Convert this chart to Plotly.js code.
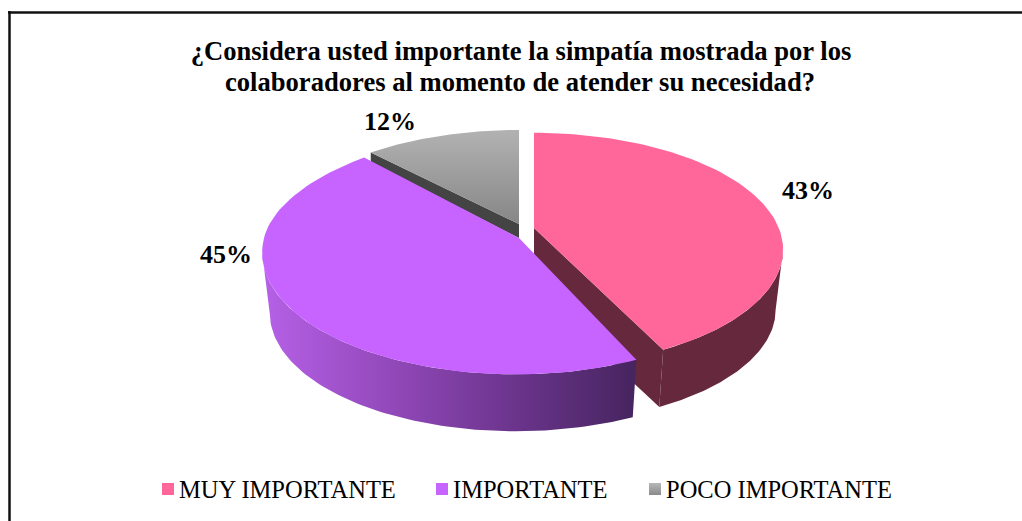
<!DOCTYPE html>
<html><head><meta charset="utf-8">
<script src="https://cdn.plot.ly/plotly-3.0.1.min.js"></script>
<style>html,body{margin:0;padding:0;background:#fff}
.legendsymbols{transform:translateX(9px)}</style></head>
<body><div id="chart" style="width:1022px;height:521px"></div>
<script>
const categories = ["MUY IMPORTANTE", "IMPORTANTE", "POCO IMPORTANTE"];
const values = [43, 45, 12];
const topColors = ["#ff6699", "#c763ff", "#a0a0a0"];
const sideColors = ["#66283c", "#7a3f9e", "#444444"];
const titleLines = ["¿Considera usted importante la simpatía mostrada por los", "colaboradores al momento de atender su necesidad?"];
const labelX = [808, 226, 390];
const labelY = [192.5, 256, 123];
const legendX = [154, 428, 641];

// drawing geometry of the tilted pie (apex, rim centre, radii, perspective, scale and drop of the lower rim)
const geo = [
  {ax:534, ay:228, cx:534, cy:224, rx:243, ry:111.3, k:.22, s:.97, d:61, far:0},
  {ax:519, ay:238, cx:516, cy:238, rx:252, ry:120,   k:.12, s:.97, d:61, far:.08},
  {ax:519, ay:224, cx:519, cy:224, rx:245, ry:111,   k:.18, s:1,   d:14, far:0}
];
const total = values.reduce((a,b)=>a+b,0);
function rim(g, t, lower){
  const u=Math.cos(t), v=Math.sin(t), w=1+g.k*u, s=lower?g.s:1, p=Math.max(u,0);
  return [g.cx + s*g.rx*(1-g.far*p*p)*v/w, g.cy + (lower?g.d:0) - s*g.ry*u/w];
}
function arc(g,a,b,lower){
  const out=[], n=90;
  for(let i=0;i<=n;i++) out.push(rim(g,a+(b-a)*i/n,lower));
  return out;
}
function poly(pts,extra){
  return Object.assign({type:"scatter",mode:"lines",x:pts.map(p=>p[0]),y:pts.map(p=>p[1]),
    fill:"toself",line:{width:0},showlegend:false,hoverinfo:"skip"},extra);
}
let acc=0; const spans=values.map(v=>{const a=acc/total*2*Math.PI; acc+=v; return [a,acc/total*2*Math.PI];});
function extreme(g,a,b,lower,sign){
  let best=a,bv=-1e9;
  for(let i=0;i<=400;i++){const t=a+(b-a)*i/400,x=sign*rim(g,t,lower)[0]; if(x>bv){bv=x;best=t;}}
  return best;
}
const traces=[];
{
  const g=geo[2],[a,b]=spans[2];
  const p=rim(g,a,false), q=[g.ax,g.ay];
  traces.push(poly([p,q,[q[0],q[1]+g.d],[p[0],p[1]+g.d*.7]],{fillcolor:sideColors[2]}));
  traces.push(poly([[g.ax,g.ay],...arc(g,a,b,false)],{fillgradient:{type:"vertical",
    colorscale:[[0,"#b2b2b2"],[1,"#868686"]],start:130,stop:225}}));
}
{
  const g=geo[0],[a,b]=spans[0];
  const e=rim(g,b,false), f=rim(g,b,true);
  traces.push(poly([[g.ax,g.ay],e,f,[g.ax,g.ay+62]],{fillcolor:sideColors[0]}));
  const t1=extreme(g,a,b,false,1), t2=extreme(g,a,b,true,1);
  traces.push(poly([...arc(g,t1,b,false),...arc(g,t2,b,true).reverse()],{fillcolor:sideColors[0]}));
  traces.push(poly([[g.ax,g.ay],...arc(g,a,b,false)],{fillcolor:topColors[0]}));
}
{
  const g=geo[1],[a,b]=spans[1];
  const t1=extreme(g,a,b,false,-1), t2=extreme(g,a,b,true,-1);
  traces.push(poly([...arc(g,a,t1,false),...arc(g,a,t2,true).reverse()],{fillgradient:{type:"horizontal",
    colorscale:[[0,"#b560e6"],[.35,"#9148b8"],[.65,"#6e3690"],[1,"#472560"]],start:266,stop:632}}));
  traces.push(poly([[g.ax,g.ay],...arc(g,a,b,false)],{fillcolor:topColors[1]}));
}
traces.push({type:"scatter",mode:"text",x:labelX,y:labelY,text:values.map(v=>v+"%"),
  textposition:"middle center",textfont:{family:"Liberation Serif",size:26,color:"#000",weight:700},
  showlegend:false,hoverinfo:"skip"});
categories.forEach((c,i)=>{
  const marker={symbol:"square",size:12,color:i==2?"#b8b8b8":topColors[i],line:{width:0}};
  if(i==2) marker.gradient={type:"vertical",color:"#8a8a8a"};
  traces.push({type:"scatter",mode:"markers",x:[null],y:[null],name:c,marker,
    legend:i?("legend"+(i+1)):"legend",showlegend:true,hoverinfo:"skip"});
});
const leg=i=>({x:legendX[i]/1022,xanchor:"left",y:1-489/521,yanchor:"middle",orientation:"h",
  bgcolor:"rgba(0,0,0,0)",borderwidth:0,itemwidth:30,indentation:-15,itemclick:false,itemdoubleclick:false,
  font:{family:"Liberation Serif",size:24.5,color:"#000"}});
const titleFont={family:"Liberation Serif",size:26.6,color:"#000",weight:700};
const layout={width:1022,height:521,margin:{l:0,r:0,t:0,b:0,pad:0},paper_bgcolor:"#fff",plot_bgcolor:"#fff",
  title:{text:titleLines[0],x:521/1022,xanchor:"center",xref:"paper",y:1-51/521,yanchor:"middle",yref:"container",font:titleFont},
  annotations:[{text:titleLines[1],xref:"paper",yref:"paper",x:520/1022,y:1-82/521,xanchor:"center",yanchor:"middle",showarrow:false,font:titleFont}],
  xaxis:{range:[0,1022],visible:false,fixedrange:true},
  yaxis:{range:[521,0],visible:false,fixedrange:true},
  legend:leg(0),legend2:leg(1),legend3:leg(2),
  shapes:[
    {type:"line",x0:9.5,x1:9.5,y0:11,y1:521,line:{color:"#111",width:2.5}},
    {type:"line",x0:8,x1:1022,y0:12.5,y1:12.5,line:{color:"#111",width:2.5}}
  ]};
Plotly.newPlot("chart",traces,layout,{displayModeBar:false});
</script></body></html>
